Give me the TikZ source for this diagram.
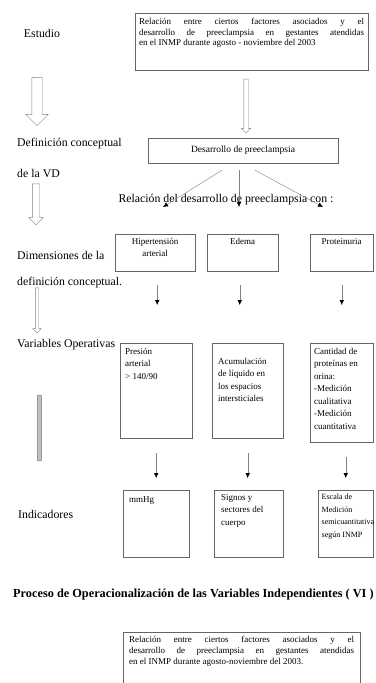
\documentclass[tikz,border=0pt]{standalone}
\usepackage{fontspec}
\setmainfont{Liberation Serif}
\usepackage{tikz}
\usetikzlibrary{arrows.meta}
\usetikzlibrary{shapes.arrows}
\tikzset{my_label/.style={anchor=west, inner sep=0pt, font=\fontsize{11.8}{13}\selectfont}}
\tikzset{my_box/.style={draw=black!60, anchor=north west, inner xsep=4pt, inner ysep=4pt, font=\fontsize{9}{12.5}\selectfont}}
\tikzset{my_link/.style={draw=black!50, -{Latex[length=5pt,width=4.5pt,black]}}}
\tikzset{my_hollow/.style={single arrow, draw=black!50, shape border rotate=270, single arrow tip angle=90}}
\newcommand{\cell}[3]{\parbox[c][#1][t]{#2}{#3}}

\begin{document}
\begin{tikzpicture}[x=1pt,y=-1pt]
    \useasboundingbox (0,0) rectangle (375,683);
    \clip (0,0) rectangle (375,683);
    %\draw[help lines,step=50] (0,0) grid (375,683);

    % left column
    \node[my_label, anchor=center] (est) at (42,33) {Estudio};
    \node[my_label] (defc) at (17,144) {Definición conceptual};
    \node[my_label] (vd) at (17,173) {de la VD};
    \node[my_label] (dim) at (17,255) {Dimensiones de la};
    \node[my_label] (dimc) at (17,283) {definición conceptual.};
    \node[my_label] (vop) at (17,345) {Variables Operativas};
    \node[my_label] (ind) at (18,514) {Indicadores};

    \node[my_hollow, minimum height=48pt, inner sep=5pt, single arrow head extend=6pt] (ha1) at (37,99) {};
    \node[my_hollow, minimum height=41pt, inner sep=3.5pt, single arrow head extend=3.5pt] (ha2) at (36,202.5) {};
    \node[my_hollow, minimum height=45pt, inner sep=1.5pt, single arrow head extend=2.5pt] (ha3) at (37,309.5) {};
    \node[draw=black!40, fill=black!25, minimum width=4pt, minimum height=65pt, inner sep=0pt] (hbar) at (39.5,427.5) {};

    % study and dependent variable
    \node[my_box, inner ysep=5pt, font=\fontsize{9}{10.5}\selectfont] (study) at (135,13)
        {\cell{47pt}{225pt}{Relación entre ciertos factores asociados y el\linebreak
         desarrollo de preeclampsia en gestantes atendidas\linebreak
         en el INMP durante agosto - noviembre del 2003}};
    \node[my_hollow, minimum height=54pt, inner sep=2pt, single arrow head extend=2.5pt] (ca) at (246,105) {};
    \node[draw=black!60, minimum width=190pt, minimum height=25pt, font=\fontsize{9.5}{11}\selectfont] (dp) at (243,150.5) {Desarrollo de preeclampsia};

    \node[my_label, anchor=center] (rel) at (226,200) {Relación del desarrollo de preeclampsia con :};
    \coordinate (dp_l) at ([xshift=-21pt,yshift=-7pt]dp.south);
    \coordinate (dp_m) at ([xshift=-4pt,yshift=-7pt]dp.south);
    \coordinate (dp_r) at ([xshift=12pt,yshift=-7pt]dp.south);
    \coordinate (rel_l) at (163,207);
    \coordinate (rel_m) at (239,207);
    \coordinate (rel_r) at (323,207);
    \draw[my_link] (dp_l) -- (rel_l);
    \draw[my_link] (dp_m) -- (rel_m);
    \draw[my_link] (dp_r) -- (rel_r);

    % dimensions
    \node[my_box] (hta) at (115,234) {\cell{29pt}{72pt}{\centering Hipertensión\\arterial}};
    \node[my_box] (ede) at (207,234) {\cell{29pt}{63pt}{\centering Edema}};
    \node[my_box] (pro) at (310,234) {\cell{29pt}{55pt}{\centering Proteinuria}};

    % operative variables
    \node[my_box, inner xsep=5pt, inner ysep=5pt] (pa) at (120,343)
        {\cell{85pt}{62pt}{\raggedright Presión\\arterial\\> 140/90}};
    \node[my_box, inner xsep=6pt, inner ysep=5pt] (acu) at (212,343)
        {\cell{85pt}{59pt}{\raggedright\vspace*{10pt}Acumulación de líquido en los espacios intersticiales}};
    \node[my_box, inner xsep=4pt, inner ysep=5pt] (cant) at (310,343)
        {\cell{89pt}{55pt}{\raggedright Cantidad de proteínas en orina:\\-Medición cualitativa\\-Medición cuantitativa}};

    % indicators
    \node[my_box, inner xsep=6pt, inner ysep=6pt] (mm) at (123,490) {\cell{55pt}{54pt}{\raggedright mmHg}};
    \node[my_box, inner xsep=7pt, inner ysep=4pt] (sig) at (214,490)
        {\cell{59pt}{55pt}{\raggedright Signos y sectores del cuerpo}};
    \node[my_box, inner xsep=3.5pt, inner ysep=4pt, font=\fontsize{8}{12.5}\selectfont] (esc) at (318,490)
        {\cell{59pt}{48pt}{\raggedright Escala de\\Medición\\\mbox{semicuantitativa}\\\mbox{según INMP}}};

    \draw[my_link, shorten <=14pt, shorten >=38pt] ([xshift=2pt]hta.south) -- ([xshift=2pt]hta.south |- pa.north);
    \draw[my_link, shorten <=14pt, shorten >=38pt] ([xshift=-3pt]ede.south) -- ([xshift=-3pt]ede.south |- acu.north);
    \draw[my_link, shorten <=14pt, shorten >=38pt] (pro.south) -- (pro.south |- cant.north);
    \draw[my_link, shorten <=15pt, shorten >=12pt] (pa.south) -- (pa.south |- mm.north);
    \draw[my_link, shorten <=15pt, shorten >=12pt] (acu.south) -- (acu.south |- sig.north);
    \draw[my_link, shorten <=15pt, shorten >=12pt] (cant.south -| esc.north) -- (esc.north);

    % second figure
    \node[my_label, font=\bfseries\fontsize{12.3}{14}\selectfont] (tit) at (13,595)
        {Proceso de Operacionalización de las Variables Independientes ( VI )};
    \node[my_box, inner xsep=6pt, inner ysep=4pt, font=\fontsize{9}{11}\selectfont] (study2) at (123,632)
        {\cell{70pt}{225pt}{Relación entre ciertos factores asociados y el\linebreak
         desarrollo de preeclampsia en gestantes atendidas\linebreak
         en el INMP durante agosto-noviembre del 2003.}};
\end{tikzpicture}
\end{document}
